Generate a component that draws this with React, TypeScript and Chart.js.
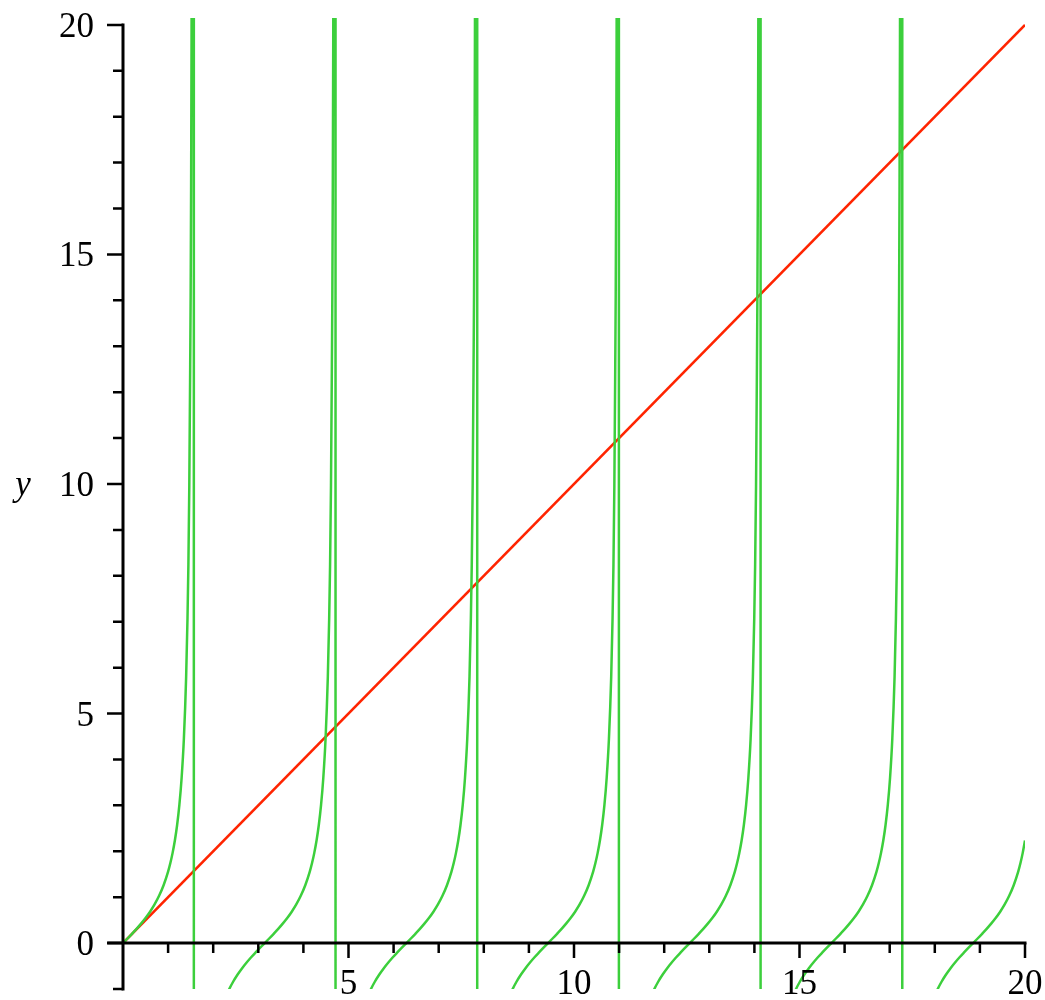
import React, { useEffect, useRef } from "react";
import { Chart, registerables } from "chart.js";

Chart.register(...registerables);

// Zero crossings of the green tan branches
const branchCenters = [0, 3.1416, 6.2832, 9.4248, 12.5664, 15.708, 18.8496];
// Shape of one branch: offset from its zero crossing and value
const branchOffsets = [
  -1.5706, -1.5, -1.3, -1.1, -0.9, -0.8, -0.7, -0.6, -0.5, -0.4, -0.3, -0.2, -0.1,
  0, 0.1, 0.2, 0.3, 0.4, 0.5, 0.6, 0.7, 0.8, 0.9, 1.0, 1.05, 1.1, 1.15, 1.2, 1.25,
  1.3, 1.35, 1.4, 1.43, 1.45, 1.47, 1.49, 1.5, 1.51, 1.52, 1.53, 1.55, 1.5706,
];
const branchValues = [
  -5000, -14.1, -3.6, -1.96, -1.26, -1.03, -0.842, -0.684, -0.546, -0.423, -0.309, -0.203, -0.1,
  0, 0.1, 0.203, 0.309, 0.423, 0.546, 0.684, 0.842, 1.03, 1.26, 1.557, 1.743, 1.965, 2.234, 2.572, 3.01,
  3.602, 4.455, 5.798, 7.07, 8.238, 9.967, 12.61, 14.1, 16.43, 19.67, 24.5, 48.08, 5000,
];
// Red line y = x
const lineX = [0, 20];
const lineY = [0, 20];

// Axis ticks and labels
const xTicks = [1, 2, 3, 4, 5, 6, 7, 8, 9, 10, 11, 12, 13, 14, 15, 16, 17, 18, 19, 20];
const xLabels = [5, 10, 15, 20];
const yTicks = [-1, 0, 1, 2, 3, 4, 5, 6, 7, 8, 9, 10, 11, 12, 13, 14, 15, 16, 17, 18, 19, 20];
const yLabels = [0, 5, 10, 15, 20];
const yAxisTitle = "y";

const GREEN = "#3ccf3c";
const RED = "#ff2400";
const FONT = `"Liberation Serif", "Times New Roman", Times, serif`;

const axesPlugin = {
  id: "mapleAxes",
  afterDatasetsDraw(chart: any) {
    const { ctx, scales } = chart;
    const xs = scales.x;
    const ys = scales.y;
    const x0 = xs.getPixelForValue(0);
    const y0 = ys.getPixelForValue(0);
    ctx.save();
    ctx.strokeStyle = "#000";
    ctx.fillStyle = "#000";
    ctx.lineWidth = 3;
    ctx.lineCap = "butt";
    ctx.beginPath();
    ctx.moveTo(xs.getPixelForValue(-0.35), y0);
    ctx.lineTo(xs.getPixelForValue(20) + 1.5, y0);
    ctx.moveTo(x0, ys.getPixelForValue(-1) + 1.5);
    ctx.lineTo(x0, ys.getPixelForValue(20) - 1.5);
    ctx.stroke();
    ctx.lineWidth = 2.5;
    ctx.beginPath();
    xTicks.forEach((v) => {
      const px = xs.getPixelForValue(v);
      const len = v % 5 === 0 ? 15 : 10;
      ctx.moveTo(px, y0);
      ctx.lineTo(px, y0 + len);
    });
    yTicks.forEach((v) => {
      const py = ys.getPixelForValue(v);
      const len = v % 5 === 0 ? 16 : 10;
      ctx.moveTo(x0, py);
      ctx.lineTo(x0 - len, py);
    });
    ctx.stroke();
    ctx.font = `35px ${FONT}`;
    ctx.textBaseline = "alphabetic";
    ctx.textAlign = "center";
    xLabels.forEach((v) => {
      ctx.fillText(String(v), xs.getPixelForValue(v), y0 + 51);
    });
    ctx.textAlign = "right";
    yLabels.forEach((v) => {
      ctx.fillText(String(v), x0 - 29, ys.getPixelForValue(v) + 12);
    });
    ctx.font = `italic 35px ${FONT}`;
    ctx.textAlign = "center";
    ctx.fillText(yAxisTitle, 23, ys.getPixelForValue(10) + 11);
    ctx.restore();
  },
};

export default function App() {
  const ref = useRef<HTMLCanvasElement | null>(null);
  useEffect(() => {
    if (!ref.current) return;
    let chart: Chart | null = null;
    let cancelled = false;
    const build = () => {
      if (cancelled || !ref.current) return;
      const tanData: { x: number; y: number }[] = [];
      branchCenters.forEach((c) => {
        branchOffsets.forEach((o, i) => {
          const x = c + o;
          if (x >= -0.0001 && x <= 20.0001) tanData.push({ x, y: branchValues[i] });
        });
      });
      const redData = lineX.map((x, i) => ({ x, y: lineY[i] }));
      chart = new Chart(ref.current, {
        type: "line",
        data: {
          datasets: [
            {
              data: tanData,
              borderColor: GREEN,
              borderWidth: 2.5,
              pointRadius: 0,
              cubicInterpolationMode: "monotone",
              capBezierPoints: false,
              fill: false,
            } as any,
            {
              data: redData,
              borderColor: RED,
              borderWidth: 2.5,
              pointRadius: 0,
              tension: 0,
              fill: false,
            },
          ],
        },
        options: {
          animation: false,
          responsive: false,
          maintainAspectRatio: false,
          events: [],
          layout: { padding: { left: 123, right: 20, top: 18, bottom: 11 } },
          plugins: { legend: { display: false }, tooltip: { enabled: false } },
          scales: {
            x: { type: "linear", min: 0, max: 20, display: false },
            y: { type: "linear", min: -1, max: 20.15, display: false },
          },
        },
        plugins: [axesPlugin],
      });
    };
    const fonts: any = (document as any).fonts;
    if (fonts && fonts.load) {
      Promise.all([fonts.load(`35px "Liberation Serif"`), fonts.load(`italic 35px "Liberation Serif"`)])
        .catch(() => null)
        .then(build);
    } else {
      build();
    }
    return () => {
      cancelled = true;
      if (chart) chart.destroy();
    };
  }, []);
  return (
    <div style={{ position: "absolute", left: 0, top: 0, width: 1045, height: 1000, background: "#fff" }}>
      <canvas ref={ref} width={1045} height={1000} style={{ display: "block" }} />
    </div>
  );
}
